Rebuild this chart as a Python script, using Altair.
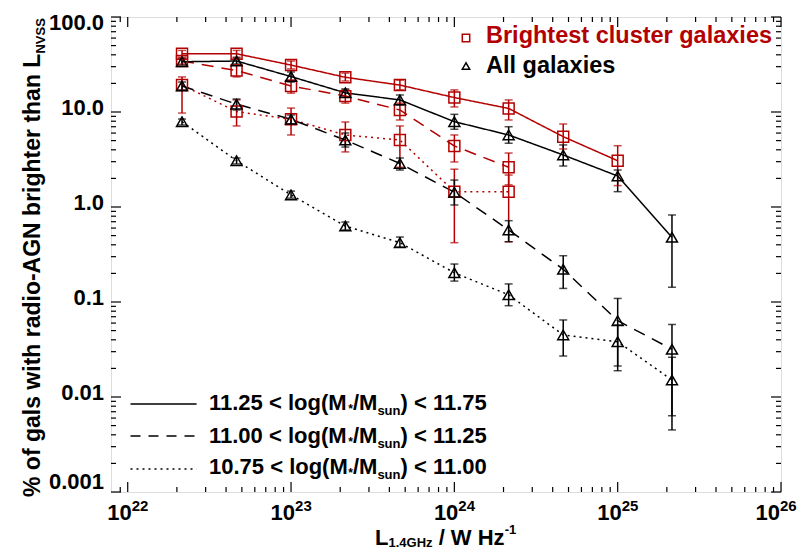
import altair as alt
import pandas as pd

RED = "#b30000"
FONT = "Liberation Sans"

# ---------------- data ----------------
L_bins = [2.15e22, 4.64e22, 1.0e23, 2.15e23, 4.64e23, 1.0e24, 2.15e24, 4.64e24, 1.0e25, 2.15e25]

bcg_hi_frac = [41.0, 41.0, 31.2, 23.2, 19.2, 14.2, 10.9, 5.5, 3.07]
bcg_hi_up = [44.5, 44.5, 34.4, 25.7, 21.7, 17.1, 13.4, 7.48, 4.42]
bcg_hi_dn = [37.8, 37.8, 28.4, 21.2, 17.1, 11.3, 8.24, 4.08, 1.68]

bcg_mid_frac = [34.4, 27.3, 18.8, 14.7, 10.5, 4.39, 2.62]
bcg_mid_up = [37.0, 31.2, 21.7, 17.1, 12.4, 5.73, 3.7]
bcg_mid_dn = [32.0, 23.4, 15.8, 12.4, 8.24, 2.98, 1.71]

bcg_lo_frac = [19.2, 10.1, 8.37, 5.73, 5.07, 1.45, 1.45]
bcg_lo_up = [23.4, 13.4, 11.0, 7.85, 7.13, 2.5, 2.17]
bcg_lo_dn = [9.75, 7.13, 5.73, 3.8, 2.62, 0.421, 0.431]

all_hi_frac = [33.8, 34.4, 23.6, 15.9, 13.4, 7.91, 5.73, 3.53, 2.12, 0.48]
all_hi_up = [36.1, 37.0, 26.4, 17.5, 15.1, 9.45, 7.0, 4.5, 2.45, 0.824]
all_hi_dn = [31.2, 32.0, 20.7, 14.4, 11.9, 6.58, 4.69, 2.7, 1.45, 0.143]

all_mid_frac = [18.8, 12.1, 8.37, 5.07, 2.87, 1.43, 0.573, 0.221, 0.0636, 0.0318]
all_mid_up = [20.7, 13.7, 9.3, 6.01, 3.28, 1.92, 0.718, 0.307, 0.109, 0.058]
all_mid_dn = [17.1, 10.5, 7.48, 4.28, 2.45, 1.05, 0.431, 0.139, 0.0212, 0.00635]

all_lo_frac = [7.91, 3.07, 1.34, 0.631, 0.421, 0.203, 0.119, 0.045, 0.0382, 0.0151]
all_lo_up = [8.43, 3.28, 1.47, 0.695, 0.483, 0.251, 0.155, 0.0647, 0.0573, 0.0262]
all_lo_dn = [7.3, 2.84, 1.24, 0.573, 0.379, 0.166, 0.0914, 0.027, 0.0189, 0.0045]

samples = ["BCG", "All"]
mass_bins = ["hi", "mid", "lo"]
mass_labels = ["11.25 < log(M", "11.00 < log(M", "10.75 < log(M"]
mass_label_ends = [") < 11.75", ") < 11.25", ") < 11.00"]

y_major = [0.001, 0.01, 0.1, 1.0, 10.0, 100.0]
y_labels = ["0.001", "0.01", "0.1", "1.0", "10.0", "100.0"]
x_exps = ["22", "23", "24", "25", "26"]

series = [
    ("BCG", "hi", bcg_hi_frac, bcg_hi_up, bcg_hi_dn),
    ("BCG", "mid", bcg_mid_frac, bcg_mid_up, bcg_mid_dn),
    ("BCG", "lo", bcg_lo_frac, bcg_lo_up, bcg_lo_dn),
    ("All", "hi", all_hi_frac, all_hi_up, all_hi_dn),
    ("All", "mid", all_mid_frac, all_mid_up, all_mid_dn),
    ("All", "lo", all_lo_frac, all_lo_up, all_lo_dn),
]
rows = []
for samp, mb, fr, up, dn in series:
    for i in range(len(fr)):
        rows.append(dict(sample=samp, mbin=mb, L=L_bins[i], frac=fr[i], up=up[i], dn=dn[i]))
df = pd.DataFrame(rows)

# ---------------- layout ----------------
W, H = 670, 475
xscale = alt.Scale(type="log", domain=[7.9e21, 1e26])
yscale = alt.Scale(type="log", domain=[0.001, 100])

color = alt.Color("sample:N", scale=alt.Scale(domain=samples, range=[RED, "black"]), legend=None)
dash = alt.StrokeDash("mbin:N", scale=alt.Scale(domain=mass_bins, range=[[1, 0], [12, 8], [2, 4]]), legend=None)
shape = alt.Shape("sample:N", scale=alt.Scale(domain=samples, range=["square", "triangle-up"]), legend=None)

X = alt.X("L:Q", scale=xscale, axis=None)

base = alt.Chart(df)
lines = base.mark_line(strokeWidth=1.5).encode(
    x=X, y=alt.Y("frac:Q", scale=yscale, axis=None), color=color, strokeDash=dash,
    detail="sample:N", order="L:Q")
errs = base.mark_rule(strokeWidth=1.5).encode(
    x=X, y=alt.Y("dn:Q", scale=yscale, axis=None), y2="up:Q", color=color)
cap_lo = base.mark_tick(orient="horizontal", size=8, thickness=1.5).encode(
    x=X, y=alt.Y("dn:Q", scale=yscale, axis=None), color=color)
cap_hi = base.mark_tick(orient="horizontal", size=8, thickness=1.5).encode(
    x=X, y=alt.Y("up:Q", scale=yscale, axis=None), color=color)
pts = base.mark_point(filled=False, strokeWidth=1.5, size=120, opacity=1).encode(
    x=X, y=alt.Y("frac:Q", scale=yscale, axis=None), color=color, shape=shape)

# inward ticks on all four sides
x_major = [10.0 ** int(e) for e in x_exps]
x_minor = [k * 10.0 ** e for e in range(21, 26) for k in range(2, 10) if 8.5e21 < k * 10.0 ** e < 1e26]
y_minor = [k * 10.0 ** e for e in range(-3, 2) for k in range(2, 10)]

def xticks(vals, length):
    d = pd.DataFrame({"v": vals})
    c = alt.Chart(d)
    xx = alt.X("v:Q", scale=xscale, axis=None)
    return (c.mark_rule(color="black", strokeWidth=1.2).encode(x=xx, y=alt.value(H), y2=alt.value(H - length)) +
            c.mark_rule(color="black", strokeWidth=1.2).encode(x=xx, y=alt.value(0), y2=alt.value(length)))

def yticks(vals, length):
    d = pd.DataFrame({"v": vals})
    c = alt.Chart(d)
    yy = alt.Y("v:Q", scale=yscale, axis=None)
    return (c.mark_rule(color="black", strokeWidth=1.2).encode(y=yy, x=alt.value(0), x2=alt.value(length)) +
            c.mark_rule(color="black", strokeWidth=1.2).encode(y=yy, x=alt.value(W), x2=alt.value(W - length)))

ticks = xticks(x_major, 10) + xticks(x_minor, 5) + yticks(y_major, 10) + yticks(y_minor, 5)

# x tick labels 10^n (the last one nudged left so it stays inside the page)
xl = pd.DataFrame({"v": x_major, "exp": x_exps, "b": ["10"] * len(x_exps)})
def xlab_layer(filt, dx):
    c = alt.Chart(xl).transform_filter(filt)
    xx = alt.X("v:Q", scale=xscale, axis=None)
    return (c.mark_text(font=FONT, fontWeight="bold", fontSize=22, align="right",
                        baseline="alphabetic", dx=dx, color="black")
            .encode(x=xx, y=alt.value(503), text="b:N") +
            c.mark_text(font=FONT, fontWeight="bold", fontSize=15, align="left",
                        baseline="alphabetic", dx=dx, color="black")
            .encode(x=xx, y=alt.value(494), text="exp:N"))
xlab = xlab_layer("datum.v < 5e25", 4) + xlab_layer("datum.v >= 5e25", -1)

# y tick labels
yl = pd.DataFrame({"v": y_major, "lab": y_labels})
def ylab_layer(filt, dy):
    return alt.Chart(yl).transform_filter(filt).mark_text(
        font=FONT, fontWeight="bold", fontSize=22, align="right", baseline="middle",
        dy=dy, color="black").encode(
        y=alt.Y("v:Q", scale=yscale, axis=None), x=alt.value(-7), text="lab:N")
ylab = (ylab_layer("datum.v > 0.005 && datum.v < 50", -4) +
        ylab_layer("datum.v >= 50", 6) +
        ylab_layer("datum.v <= 0.005", -10))

# text helpers
AW = {'0': 556, '1': 556, '2': 556, '3': 556, '4': 556, '5': 556, '6': 556, '7': 556, '8': 556, '9': 556,
      '.': 278, ' ': 278, '<': 584, 'l': 278, 'o': 611, 'g': 611, '(': 333, ')': 333, 'M': 833, '/': 278,
      's': 556, 'u': 611, 'n': 611, '*': 389, 'L': 611, 'G': 778, 'H': 722, 'z': 500, 'W': 944, '-': 333,
      '%': 889, 'f': 333, 'a': 556, 'w': 778, 'i': 278, 't': 333, 'h': 611, 'r': 389, 'd': 611, 'A': 722,
      'N': 722, 'b': 611, 'e': 556, 'V': 667, 'S': 667}

def tw(s, size):
    return sum(AW.get(c, 556) for c in s) * size / 1000.0

one = pd.DataFrame({"a": [0]})

def txt(s, x, y, size, col="black", angle=0, align="left"):
    return alt.Chart(one).mark_text(text=s, font=FONT, fontWeight="bold", fontSize=size, color=col,
                                    angle=angle, align=align, baseline="alphabetic").encode(
        x=alt.value(x), y=alt.value(y))

annos = []
# x title: L_1.4GHz / W Hz^-1
XS, SS = 22, 13
x0 = 264
annos.append(txt("L", x0, 528, XS))
x1 = x0 + tw("L", XS)
annos.append(txt("1.4GHz", x1, 530, SS))
x2 = x1 + tw("1.4GHz", SS) + tw(" ", XS)
annos.append(txt("/ W Hz", x2, 528, XS))
x3 = x2 + tw("/ W Hz", XS)
annos.append(txt("-1", x3, 517, SS))

# y title (rotated)
MS = 23
ymain = "% of gals with radio-AGN brighter than L"
annos.append(txt(ymain, -71, 480, MS, angle=270))
annos.append(txt("NVSS", -66, 480 - tw(ymain, MS), SS, angle=270))

# top-right legend
annos.append(txt("Brightest cluster galaxies", 375, 26, 23.5, col=RED))
annos.append(txt("All galaxies", 375, 56, 23.5))
sym_sq = alt.Chart(one).mark_point(
    filled=False, strokeWidth=1.5, size=55, opacity=1, shape="square", color=RED).encode(
    x=alt.value(355), y=alt.value(21))
sym_tr = alt.Chart(one).mark_point(
    filled=False, strokeWidth=1.5, size=55, opacity=1, shape="triangle-up", color="black").encode(
    x=alt.value(355), y=alt.value(49))

# bottom-left legend (line styles)
dashes = [[1, 0], [10, 8], [2, 4]]
line_y = [387, 419, 452]
text_y = [393, 426, 457]
leg_lines = []
for i in range(3):
    leg_lines.append(alt.Chart(one).mark_rule(color="black", strokeWidth=1.5, strokeDash=dashes[i]).encode(
        x=alt.value(19.5), x2=alt.value(85.6), y=alt.value(line_y[i])))
    tx = 98
    ty = text_y[i]
    annos.append(txt(mass_labels[i], tx, ty, 22))
    tx += tw(mass_labels[i], 22) + 0.5
    annos.append(txt("*", tx, ty + 3, 12))
    tx += tw("*", 12)
    annos.append(txt("/M", tx, ty, 22))
    tx += tw("/M", 22)
    annos.append(txt("sun", tx, ty + 5, 13))
    tx += tw("sun", 13)
    annos.append(txt(mass_label_ends[i], tx, ty, 22))

layers = [ticks, errs, cap_lo, cap_hi, lines, pts, xlab, ylab, sym_sq, sym_tr] + leg_lines + annos
chart = alt.layer(*layers).properties(
    width=W, height=H,
    autosize=alt.AutoSizeParams(type="none"),
    padding={"left": 103, "top": 9, "right": 16, "bottom": 58},
).configure_view(stroke="black", strokeWidth=1.5).configure(background="white")

chart.save("out.html", embed_options={"renderer": "svg", "actions": False})
